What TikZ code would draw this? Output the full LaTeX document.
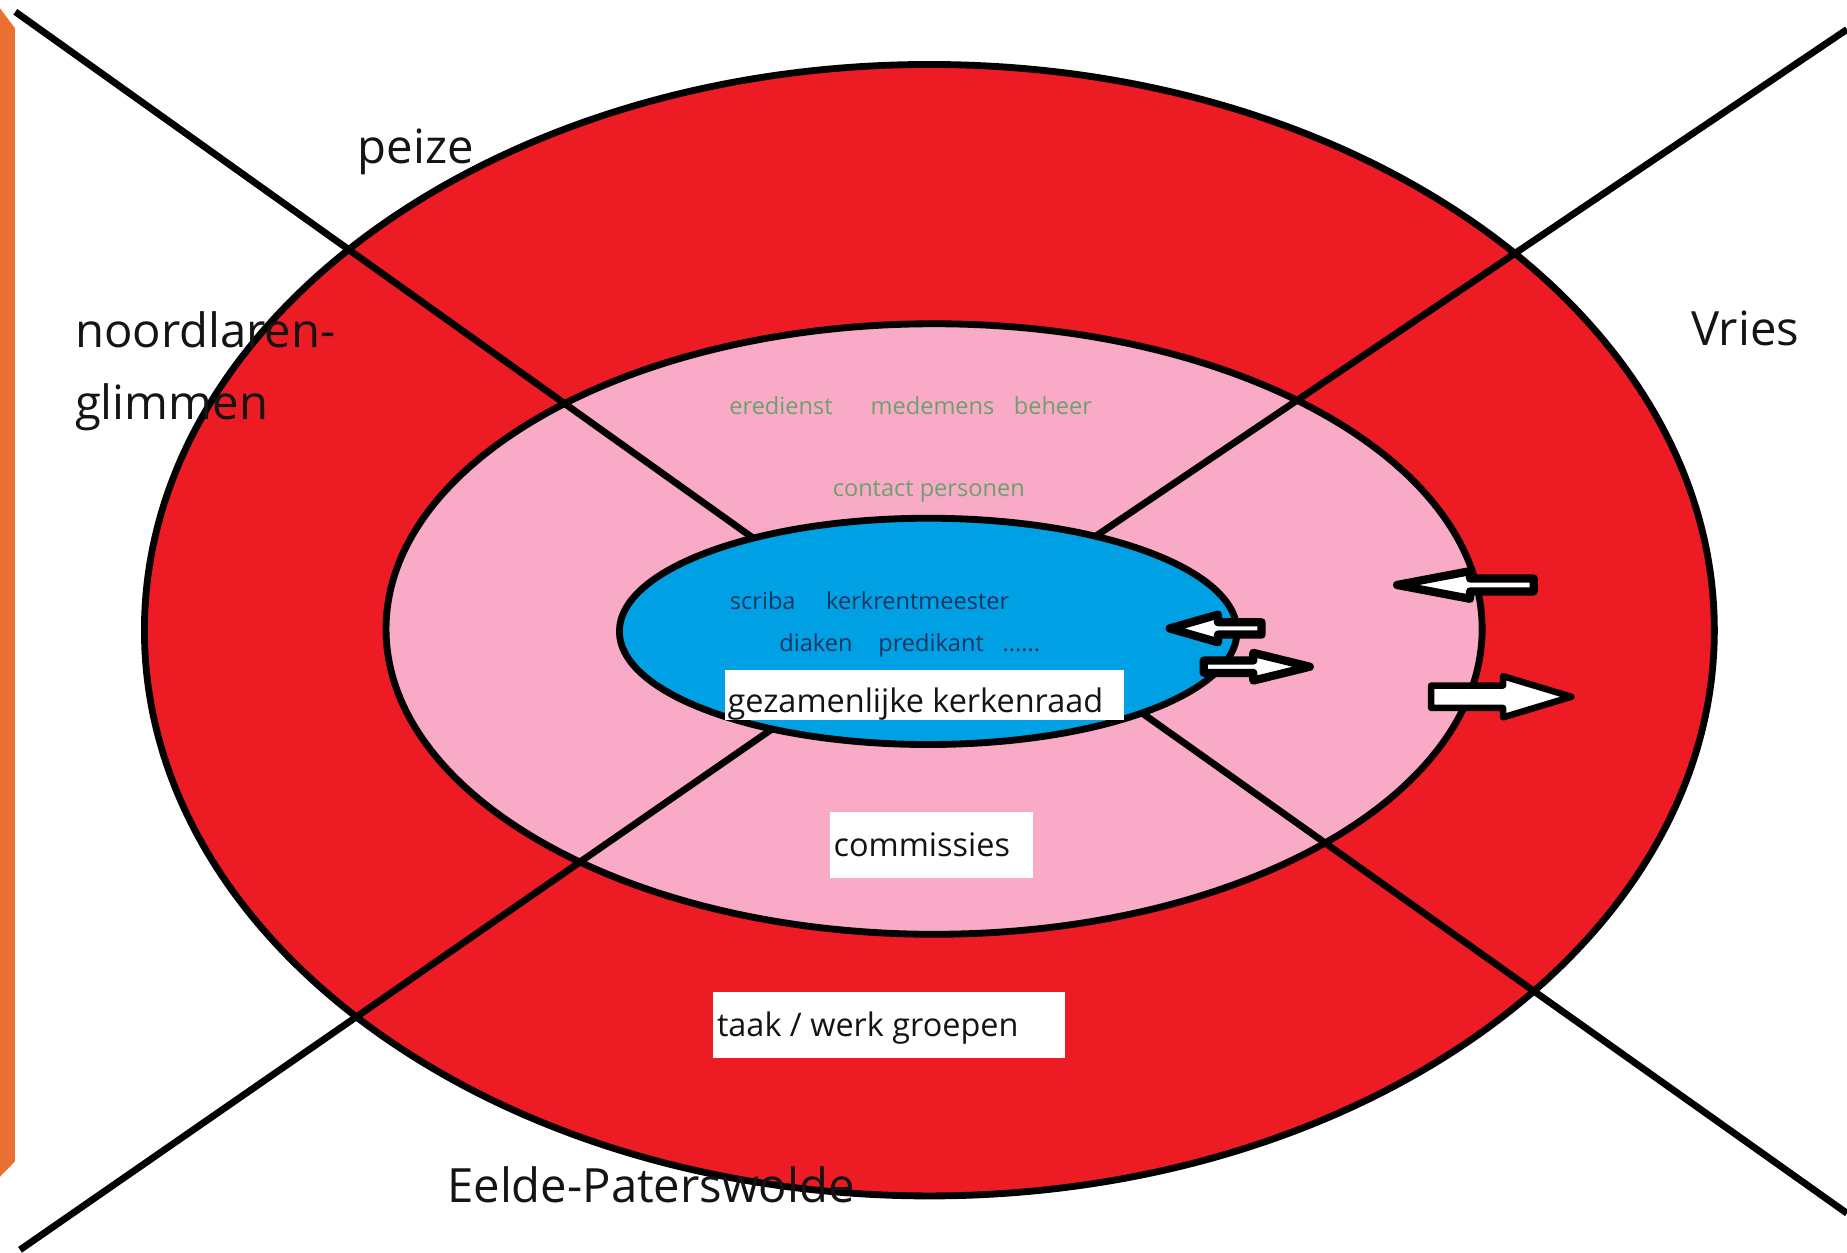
\documentclass[tikz,border=0pt]{standalone}
\usepackage{fontspec}
\setmainfont{Open Sans}
\definecolor{barorange}{RGB}{235,113,50}
\definecolor{ringred}{RGB}{237,28,36}
\definecolor{ringpink}{RGB}{249,170,198}
\definecolor{ringblue}{RGB}{0,161,228}
\definecolor{greentext}{RGB}{108,160,108}
\definecolor{navytext}{RGB}{24,52,96}
\definecolor{textdark}{RGB}{20,20,20}
\newcommand{\blockarr}[7]{%
  \draw[blockarrow,#1] (#2,#5-#6) -- (#3,#5-#6) -- (#3,#5-#7) -- (#4,#5)
    -- (#3,#5+#7) -- (#3,#5+#6) -- (#2,#5+#6) -- cycle;}
\begin{document}
\begin{tikzpicture}[x=0.01cm,y=-0.01cm,
  ring/.style={draw=black,line width=0.058cm},
  crossline/.style={draw=black,line width=0.058cm},
  biglabel/.style={font=\fontsize{11.4}{13}\selectfont,text=textdark,inner sep=0pt,anchor=base west},
  midlabel/.style={font=\fontsize{7.83}{9}\selectfont,text=textdark,inner sep=0pt,anchor=base west},
  greenlabel/.style={font=\fontsize{5.69}{7}\selectfont,text=greentext,inner sep=0pt,anchor=base west},
  bluelabel/.style={font=\fontsize{5.69}{7}\selectfont,text=navytext,inner sep=0pt,anchor=base west},
  whitebox/.style={fill=white},
  blockarrow/.style={draw=black,fill=white,line join=round}]
\useasboundingbox (0,0) rectangle (1568,1063);
\fill[white] (0,0) rectangle (1568,1063);
% orange side bar
\fill[barorange] (0,7) -- (12.7,24) -- (12.7,986) -- (0,999) -- cycle;
% outer and middle rings
\draw[ring,fill=ringred] (789,535) ellipse [x radius=6.66cm, y radius=4.80cm];
\draw[ring,fill=ringpink] (793,534) ellipse [x radius=4.65cm, y radius=2.59cm];
% crossing lines
\coordinate (l1s) at (13,10);    \coordinate (l1e) at (700,500);
\coordinate (l1t) at (900,556);  \coordinate (l1f) at (1568,1030);
\coordinate (l2s) at (17,1061);  \coordinate (l2e) at (700,588);
\coordinate (l2t) at (880,489);  \coordinate (l2f) at (1568,25);
\draw[crossline] (l1s) -- (l1e);
\draw[crossline] (l1t) -- (l1f);
\draw[crossline] (l2s) -- (l2e);
\draw[crossline] (l2t) -- (l2f);
% inner ellipse
\draw[ring,fill=ringblue] (788,536) ellipse [x radius=2.62cm, y radius=0.96cm];
% white boxes
\fill[whitebox] (615.5,569) rectangle (954.6,611);
\fill[whitebox] (704.6,689) rectangle (876.6,745);
\fill[whitebox] (605,842.4) rectangle (904,898.4);
% arrows
\blockarr{line width=0.07cm}{1071}{1034}{993}{533.5}{5.25}{11.75}
\blockarr{line width=0.07cm}{1022}{1064}{1112}{566}{5.25}{11.75}
\blockarr{line width=0.07cm}{1302}{1248}{1186}{496.6}{5.5}{11.75}
\blockarr{line width=0.055cm}{1215}{1276}{1334}{591.5}{9.5}{17.5}
% outer labels
\node[biglabel] (peize) at (303,139) {peize};
\node[biglabel] (noord) at (63,295) {noordlaren-};
\node[biglabel] (glim) at (63,356) {glimmen};
\node[biglabel] (vries) at (1435,293) {Vries};
\node[biglabel] (eelde) at (379,1021) {Eelde-Paterswolde};
% middle labels
\node[midlabel] (kr) at (617,605) {gezamenlijke kerkenraad};
\node[midlabel] (com) at (707,727) {commissies};
\node[midlabel] (taak) at (608,880) {taak / werk groepen};
% green labels
\node[greenlabel] (ere) at (618.5,352.3) {eredienst};
\node[greenlabel] (med) at (738.5,352.3) {medemens};
\node[greenlabel] (beh) at (860,352.3) {beheer};
\node[greenlabel] (cont) at (706.3,421.6) {contact personen};
% blue labels
\node[bluelabel] (scr) at (619,517.8) {scriba};
\node[bluelabel] (kerk) at (700.7,517.8) {kerkrentmeester};
\node[bluelabel] (diak) at (661,553.2) {diaken};
\node[bluelabel] (pred) at (745,553.2) {predikant};
\node[bluelabel] (dots) at (850.4,553.2) {......};
\end{tikzpicture}
\end{document}
